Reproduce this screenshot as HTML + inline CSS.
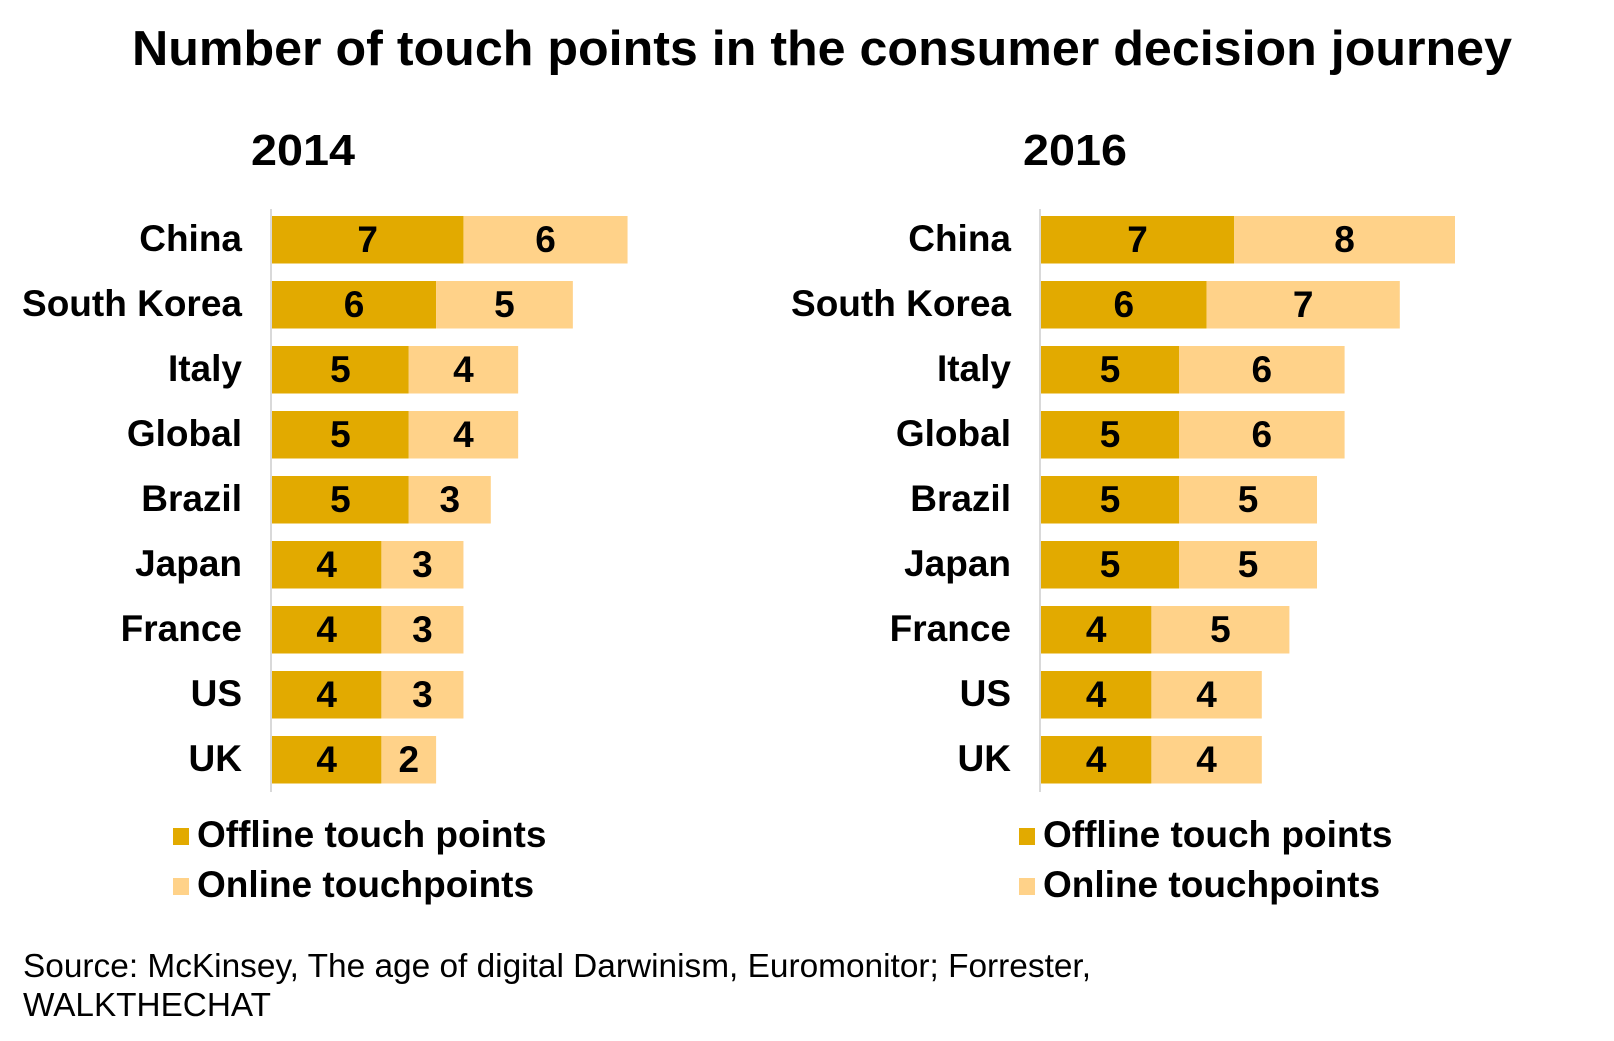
<!DOCTYPE html>
<html><head><meta charset="utf-8"><style>
html,body{margin:0;padding:0;background:#fff;}
svg{display:block;font-family:"Liberation Sans",Arial,sans-serif;}
</style></head><body>
<svg id="chart" width="1614" height="1041" viewBox="0 0 1614 1041">
<text x="132" y="65" font-size="49" font-weight="bold" fill="#000" textLength="1380" lengthAdjust="spacingAndGlyphs">Number of touch points in the consumer decision journey</text>
<g id="panels"></g>
<text x="23" y="977" font-size="33" fill="#000" textLength="1068" lengthAdjust="spacingAndGlyphs">Source: McKinsey, The age of digital Darwinism, Euromonitor; Forrester,</text>
<text x="23" y="1016" font-size="33" fill="#000" textLength="248" lengthAdjust="spacingAndGlyphs">WALKTHECHAT</text>
</svg>
<script>
const categories = ["China","South Korea","Italy","Global","Brazil","Japan","France","US","UK"];
const offline2014 = [7,6,5,5,5,4,4,4,4];
const online2014 = [6,5,4,4,3,3,3,3,2];
const offline2016 = [7,6,5,5,5,5,4,4,4];
const online2016 = [8,7,6,6,5,5,5,4,4];
const years = ["2014","2016"];
const legendLabels = ["Offline touch points","Online touchpoints"];

const DARK = "#E2AA00", LIGHT = "#FFD289";
const NS = "http://www.w3.org/2000/svg";
const root = document.getElementById("panels");
function mk(tag, attrs, parent){
  const e = document.createElementNS(NS, tag);
  for (const k in attrs) e.setAttribute(k, attrs[k]);
  parent.appendChild(e);
  return e;
}
const rowTop0 = 216, rowPitch = 65, barH = 47.5;
function yBand(i){ return rowTop0 + i*rowPitch; }

const panels = [
  {axisX:272, unit:27.35, off:offline2014, on:online2014, year:years[0], yearX:251, legX:173},
  {axisX:1041, unit:27.6, off:offline2016, on:online2016, year:years[1], yearX:1023, legX:1019}
];
panels.forEach((p, pi) => {
  const g = mk("g", {}, root);
  
  
  const xS = v => p.axisX + v*p.unit;
  const yt = mk("text", {x:p.yearX, y:165, "font-size":"44", "font-weight":"bold", textLength:"104", lengthAdjust:"spacingAndGlyphs"}, g);
  yt.textContent = p.year;
  
  
  const ax = mk("line", {x1:p.axisX-1, x2:p.axisX-1, y1:209, y2:792, stroke:"#d9d9d9", "stroke-width":"2"}, g);
  
  
  categories.forEach((c, i) => {
    const y = yBand(i);
    const lab = mk("text", {x:p.axisX-30, y:y+barH/2+11, "text-anchor":"end", "font-size":"37", "font-weight":"bold"}, g);
    lab.textContent = c;
    
    
    const o = p.off[i], n = p.on[i];
    const r1 = mk("rect", {x:xS(0), y:y, width:xS(o)-xS(0), height:barH, fill:DARK}, g);
    
    
    const r2 = mk("rect", {x:xS(o), y:y, width:xS(o+n)-xS(o), height:barH, fill:LIGHT}, g);
    
    
    const t1 = mk("text", {x:(xS(0)+xS(o))/2, y:y+barH/2+12, "text-anchor":"middle", "font-size":"37", "font-weight":"bold"}, g);
    t1.textContent = o;
    
    
    const t2 = mk("text", {x:(xS(o)+xS(o+n))/2, y:y+barH/2+12, "text-anchor":"middle", "font-size":"37", "font-weight":"bold"}, g);
    t2.textContent = n;
    
    
  });
  legendLabels.forEach((l, li) => {
    const cy = 836 + li*50;
    const sq = mk("rect", {x:p.legX, y:cy-8, width:16, height:17, fill: li===0?DARK:LIGHT}, g);
    
    
    const lt = mk("text", {x:p.legX+24, y:cy+11, "font-size":"37", "font-weight":"bold"}, g);
    lt.textContent = l;
    
    
  });
});
</script>
</body></html>
